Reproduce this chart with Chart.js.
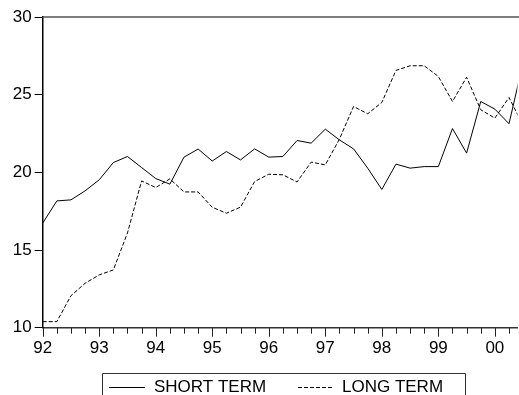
<!DOCTYPE html>
<html>
<head>
<meta charset="utf-8">
<script src="https://cdn.jsdelivr.net/npm/chart.js@4/dist/chart.umd.min.js"></script>
<style>
  html, body { margin: 0; padding: 0; background: #fff; }
  #wrap { width: 519px; height: 395px; position: relative; }
</style>
</head>
<body>
<div id="wrap"><canvas id="c" width="519" height="395"></canvas></div>
<script>
// Quarterly interest rates, 1992Q1 onwards
const startYear = 92;
const shortTerm = [16.73, 18.16, 18.23, 18.81, 19.52, 20.63, 21.02, 20.31, 19.60, 19.24,
                   20.98, 21.50, 20.73, 21.34, 20.80, 21.51, 20.98, 21.02, 22.05, 21.88,
                   22.78, 22.09, 21.51, 20.27, 18.90, 20.53, 20.27, 20.37, 20.37, 22.82,
                   21.24, 24.56, 24.07, 23.13, 27.07];
const longTerm  = [10.39, 10.39, 12.06, 12.86, 13.40, 13.72, 16.10, 19.45, 19.02, 19.58,
                   18.74, 18.74, 17.75, 17.37, 17.76, 19.41, 19.88, 19.84, 19.38, 20.66,
                   20.48, 22.14, 24.24, 23.77, 24.50, 26.56, 26.86, 26.86, 26.17, 24.56,
                   26.12, 24.03, 23.49, 24.82, 23.02];
const yearLabels = ['92', '93', '94', '95', '96', '97', '98', '99', '00'];
const seriesNames = ['SHORT TERM', 'LONG TERM'];
const yTicks = [10, 15, 20, 25, 30];

const FONT = "'Liberation Sans', Arial, sans-serif";
const toPoints = arr => arr.map((v, i) => ({ x: startYear + i / 4, y: v }));

// Frame line on top, quarter/year ticks below the time axis, and the legend box
const decor = {
  id: 'decor',
  afterDraw(chart) {
    const { ctx, chartArea: a } = chart;
    const xs = chart.scales.x;
    ctx.save();
    // top frame
    ctx.strokeStyle = '#555';
    ctx.lineWidth = 1.5;
    ctx.beginPath();
    ctx.moveTo(a.left, a.top);
    ctx.lineTo(a.right + 2, a.top);
    ctx.stroke();
    // time axis ticks
    ctx.strokeStyle = '#222';
    ctx.lineWidth = 1;
    xs.ticks.forEach(t => {
      const px = Math.round(xs.getPixelForValue(t.value)) + 0.5;
      const major = Number.isInteger(t.value);
      ctx.beginPath();
      ctx.moveTo(px, a.bottom);
      ctx.lineTo(px, a.bottom + (major ? 9 : 6));
      ctx.stroke();
    });
    // legend
    const L = 102.5, R = 465.5, T = 373.5, B = 400;
    ctx.strokeStyle = '#333';
    ctx.lineWidth = 1;
    ctx.beginPath();
    ctx.moveTo(L, B); ctx.lineTo(L, T); ctx.lineTo(R, T); ctx.lineTo(R, B);
    ctx.stroke();
    const ly = 387.5;
    ctx.strokeStyle = '#000';
    ctx.beginPath();
    ctx.moveTo(109, ly); ctx.lineTo(145, ly);
    ctx.stroke();
    ctx.setLineDash([4, 2]);
    ctx.beginPath();
    ctx.moveTo(298, ly); ctx.lineTo(334, ly);
    ctx.stroke();
    ctx.setLineDash([]);
    ctx.fillStyle = '#000';
    ctx.font = '17px ' + FONT;
    ctx.textBaseline = 'middle';
    ctx.textAlign = 'left';
    ctx.fillText(seriesNames[0], 154, ly);
    ctx.fillText(seriesNames[1], 342, ly);
    ctx.restore();
  }
};

new Chart(document.getElementById('c'), {
  type: 'line',
  data: {
    datasets: [
      { label: seriesNames[0], data: toPoints(shortTerm), borderColor: '#000',
        borderWidth: 1, pointRadius: 0, tension: 0 },
      { label: seriesNames[1], data: toPoints(longTerm), borderColor: '#000',
        borderWidth: 1, borderDash: [4, 2], pointRadius: 0, tension: 0 }
    ]
  },
  options: {
    responsive: false,
    animation: false,
    events: [],
    layout: { padding: { top: 17, right: 0, left: 0, bottom: 0 } },
    plugins: { legend: { display: false }, tooltip: { enabled: false } },
    scales: {
      x: {
        type: 'linear',
        min: 92, max: 100.4,
        afterFit: s => { s.height = 67.3; },
        ticks: {
          stepSize: 0.25,
          includeBounds: false,
          autoSkip: false,
          maxRotation: 0,
          padding: 10,
          color: '#000',
          font: { family: FONT, size: 17 },
          callback: v => Number.isInteger(v) ? yearLabels[v - startYear] : ''
        },
        grid: { drawOnChartArea: false, drawTicks: false },
        border: { display: true, color: '#333', width: 1.5 }
      },
      y: {
        min: 10, max: 30,
        afterFit: s => { s.width = 42.7; },
        afterBuildTicks: s => { s.ticks = yTicks.map(v => ({ value: v })); },
        ticks: {
          padding: 3,
          color: '#000',
          font: { family: FONT, size: 17 }
        },
        grid: { drawOnChartArea: false, drawTicks: true, tickLength: 8, color: '#000' },
        border: { display: true, color: '#000', width: 1.5 }
      }
    }
  },
  plugins: [decor]
});
</script>
</body>
</html>
